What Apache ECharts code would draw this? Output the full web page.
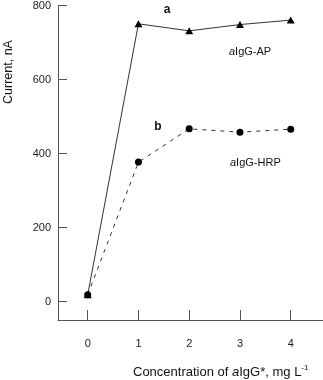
<!DOCTYPE html>
<html><head><meta charset="utf-8">
<script src="https://cdn.jsdelivr.net/npm/echarts@6/dist/echarts.min.js"></script>
<style>html,body{margin:0;padding:0;background:#fff}#c{width:323px;height:380px}</style>
</head><body><div id="c"></div>
<script>
const concentrations = [0, 1, 2, 3, 4];
const apCurrent = [18, 751, 732, 749, 761];
const hrpCurrent = [18, 377, 467, 458, 466];
const yTicks = [0, 200, 400, 600, 800];
const xTicks = [0, 1, 2, 3, 4];

const chart = echarts.init(document.getElementById('c'), null, {renderer: 'canvas'});
const font = 'Liberation Sans, Arial, sans-serif';
const option = {
  animation: false,
  grid: {left: 58, right: 0, top: 5.7, bottom: 60},
  xAxis: {
    type: 'value', min: -0.585, max: 4.636,
    axisLine: {show: true, onZero: false, lineStyle: {color: '#555', width: 1}},
    axisTick: {show: true, inside: true, length: 10, customValues: xTicks, lineStyle: {color: '#555'}},
    axisLabel: {customValues: xTicks, margin: 18, fontSize: 11, color: '#222', fontFamily: font},
    splitLine: {show: false}
  },
  yAxis: {
    type: 'value', min: -50, max: 800,
    axisLine: {show: true, onZero: false, lineStyle: {color: '#555', width: 1}},
    axisTick: {show: true, inside: true, length: 9, customValues: yTicks, lineStyle: {color: '#555'}},
    axisLabel: {customValues: yTicks, margin: 7, fontSize: 11, color: '#222', fontFamily: font},
    splitLine: {show: false}
  },
  series: [
    {
      type: 'line', name: 'aIgG-AP',
      data: concentrations.map((x, i) => [x, apCurrent[i]]),
      symbol: 'triangle', symbolSize: [8, 7],
      lineStyle: {color: '#333', width: 1},
      itemStyle: {color: '#000'}
    },
    {
      type: 'line', name: 'aIgG-HRP',
      data: concentrations.map((x, i) => [x, hrpCurrent[i]]),
      symbol: 'circle', symbolSize: 7,
      lineStyle: {color: '#333', width: 1, type: [4, 5]},
      itemStyle: {color: '#000'}
    }
  ],
  graphic: [
    {type: 'text', x: 167, y: 10, style: {text: 'a', font: 'bold 12px ' + font, fill: '#111', align: 'center', verticalAlign: 'middle'}},
    {type: 'text', x: 158, y: 127, style: {text: 'b', font: 'bold 12px ' + font, fill: '#111', align: 'center', verticalAlign: 'middle'}},
    {type: 'text', x: 229, y: 52, style: {
      text: '{i|a}{n|IgG-AP}', verticalAlign: 'middle',
      rich: {i: {fontStyle: 'italic', fontSize: 11, fontFamily: font, fill: '#111'}, n: {fontSize: 11, fontFamily: font, fill: '#111'}}
    }},
    {type: 'text', x: 230, y: 163, style: {
      text: '{i|a}{n|IgG-HRP}', verticalAlign: 'middle',
      rich: {i: {fontStyle: 'italic', fontSize: 11, fontFamily: font, fill: '#111'}, n: {fontSize: 11, fontFamily: font, fill: '#111'}}
    }},
    {type: 'text', x: 9, y: 72, rotation: Math.PI / 2, style: {
      text: 'Current, nA', font: '12.5px ' + font, fill: '#111', align: 'center', verticalAlign: 'middle'
    }},
    {type: 'text', x: 133, y: 372, style: {
      text: '{n|Concentration of }{i|a}{n|IgG*, mg L}{s|-1}', verticalAlign: 'middle',
      rich: {
        n: {fontSize: 13, fontFamily: font, fill: '#111'},
        i: {fontStyle: 'italic', fontSize: 13, fontFamily: font, fill: '#111'},
        s: {fontSize: 8, fontFamily: font, fill: '#111', verticalAlign: 'top', padding: [0,0,8,0]}
      }
    }}
  ]
};
chart.setOption(option);
</script></body></html>
